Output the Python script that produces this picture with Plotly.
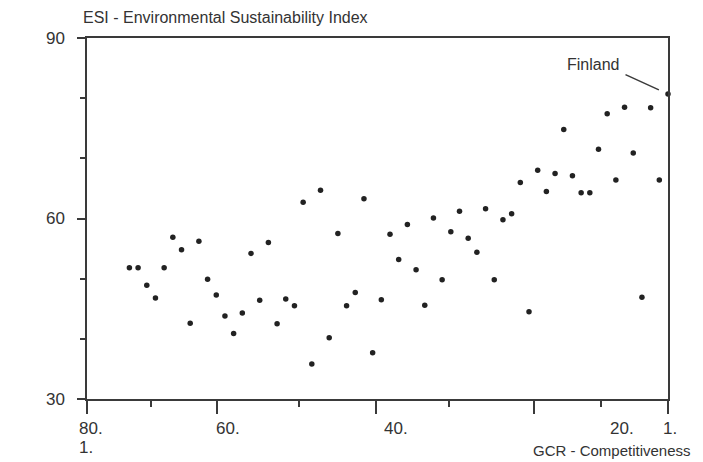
import plotly.graph_objects as go

# GCR competitiveness rank (1 = most competitive) and ESI score
gcr_rank = [1, 2, 3, 4, 5, 6, 7, 8, 9, 10,
            11, 12, 13, 14, 15, 16, 17, 18, 19, 20,
            21, 22, 23, 24, 25, 26, 27, 28, 29, 30,
            31, 32, 33, 34, 35, 36, 37, 38, 39, 40,
            41, 42, 43, 44, 45, 46, 47, 48, 49, 50,
            51, 52, 53, 54, 55, 56, 57, 58, 59, 60,
            61, 62, 63]
esi_score = [80.7, 66.4, 78.4, 46.9, 70.9, 78.5, 66.4, 77.4, 71.5, 64.3,
             64.3, 67.1, 74.8, 67.5, 64.5, 68.0, 44.5, 66.0, 60.8, 59.8,
             49.8, 61.6, 54.4, 56.7, 61.2, 57.8, 49.8, 60.1, 45.6, 51.5,
             59.0, 53.2, 57.4, 46.5, 37.7, 63.3, 47.7, 45.5, 57.5, 40.2,
             64.7, 35.8, 62.7, 45.5, 46.6, 42.5, 56.0, 46.4, 54.2, 44.3,
             40.9, 43.8, 47.3, 49.9, 56.2, 42.6, 54.8, 56.9, 51.8, 46.8,
             48.9, 51.8, 51.8]

# axis ticks / labels (in the rank units of the x axis)
x_range = [67.88, 1]
x_major_ticks = [67.88, 52.92, 34.6, 16.44, 1]
x_minor_ticks = [60.5, 43.53, 26.25, 8.7]
x_label_pos = [68.74, 52.92, 33.53, 7.52, 1.45]
x_label_text = ["80.", "60.", "40.", "20.", "1."]
y_ticks = [30, 60, 90]
y_minor_ticks = [40, 50, 70, 80]

FONT = "Liberation Sans, Arial, sans-serif"
TXT = "#333333"
LINE = "#3a3a3a"


def to_paper(v):
    return (x_range[0] - v) / (x_range[0] - x_range[1])


fig = go.Figure()
fig.add_trace(go.Scatter(
    x=gcr_rank, y=esi_score, mode="markers",
    marker=dict(size=5.5, color="#222222"),
    cliponaxis=False, showlegend=False, hoverinfo="x+y",
))

fig.update_layout(
    width=695, height=454,
    margin=dict(l=79, r=35, t=30, b=63),
    paper_bgcolor="white", plot_bgcolor="white",
    font=dict(family=FONT, size=16, color=TXT),
    xaxis=dict(
        range=x_range, showgrid=False, zeroline=False,
        showline=True, linecolor=LINE, linewidth=1.5, mirror=True,
        tickmode="array", tickvals=x_major_ticks, showticklabels=False,
        ticks="outside", ticklen=13, tickwidth=1.5, tickcolor=LINE,
        minor=dict(tickmode="array", tickvals=x_minor_ticks, ticks="outside",
                   ticklen=6, tickwidth=1.5, tickcolor=LINE, showgrid=False),
    ),
    yaxis=dict(
        range=[30, 90], showgrid=False, zeroline=False,
        showline=True, linecolor=LINE, linewidth=1.5, mirror=True,
        tickmode="array", tickvals=y_ticks,
        ticks="outside", ticklen=8, tickwidth=1.5, tickcolor=LINE,
        ticklabelstandoff=9,
        tickfont=dict(family=FONT, size=17, color=TXT),
        minor=dict(tickmode="array", tickvals=y_minor_ticks, ticks="outside",
                   ticklen=5, tickwidth=1.5, tickcolor=LINE, showgrid=False),
    ),
)

annotations = [
    dict(text="ESI - Environmental Sustainability Index", xref="paper", yref="paper",
         x=0, y=1, xshift=-6, yshift=21, xanchor="left", yanchor="middle",
         showarrow=False, font=dict(size=16, color=TXT)),
    dict(text="GCR - Competitiveness", xref="paper", yref="paper",
         x=1, y=0, xshift=25, yshift=-51, xanchor="right", yanchor="middle",
         showarrow=False, font=dict(size=15, color=TXT)),
]
for pos, lab in zip(x_label_pos, x_label_text):
    annotations.append(dict(text=lab, xref="paper", yref="paper", x=to_paper(pos), y=0,
                            xshift=-3, yshift=-29, xanchor="left", yanchor="middle",
                            showarrow=False, font=dict(size=17, color=TXT)))
annotations.append(dict(text="1.", xref="paper", yref="paper", x=to_paper(x_label_pos[0]), y=0,
                        xshift=-3, yshift=-48, xanchor="left", yanchor="middle",
                        showarrow=False, font=dict(size=17, color=TXT)))

# Finland label and pointer line
finland_x, finland_y = gcr_rank[0], esi_score[0]
annotations.append(dict(text="Finland", xref="x", yref="y", x=finland_x, y=finland_y,
                        xshift=-75, yshift=29, xanchor="center", yanchor="middle",
                        showarrow=False, font=dict(size=16, color=TXT)))
annotations.append(dict(text="", xref="x", yref="y", x=finland_x, y=finland_y,
                        showarrow=True, arrowhead=0, arrowwidth=1.5, arrowcolor=LINE,
                        ax=-44, ay=-20, standoff=10))
fig.update_layout(annotations=annotations)

fig.write_html("out.html")
